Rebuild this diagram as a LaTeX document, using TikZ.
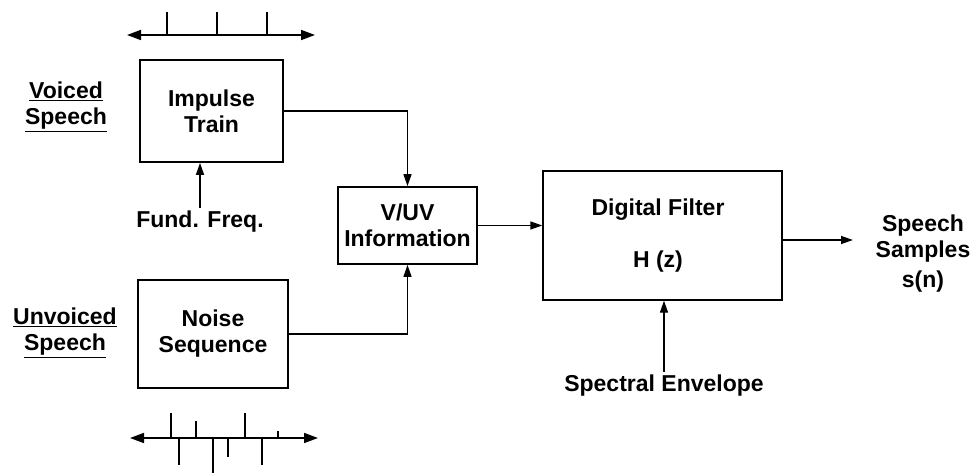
\documentclass[tikz,border=0pt]{standalone}
\usepackage{fontspec}
\setmainfont{Liberation Sans}
\usetikzlibrary{arrows.meta}
\begin{document}
\begin{tikzpicture}[x=1pt, y=-1pt,
    font=\fontsize{23}{26}\selectfont\bfseries,
    box/.style={rectangle, draw, line width=1.8pt, align=center, inner sep=0pt},
    arrow/.style={-{Triangle[length=12pt, width=8pt]}, line width=1.4pt},
    axis/.style={{Triangle[length=14pt, width=10pt]}-{Triangle[length=14pt, width=10pt]}, line width=1.6pt},
    tick/.style={line width=1.6pt}]
    \useasboundingbox (0,0) rectangle (975,473);

    % blocks
    \node[box, minimum width=143pt, minimum height=102pt] (impulse) at (211.5, 111) {Impulse\\Train};
    \node[box, minimum width=150pt, minimum height=108pt] (noise) at (213, 334) {Noise\\Sequence};
    \node[box, minimum width=139pt, minimum height=77pt] (vuv) at (407.5, 225.5) {V/UV\\Information};
    \node[box, minimum width=239pt, minimum height=129pt, line width=1.4pt] (filter) at (662.5, 235.5) {};
    \node (filtname) at (658, 210) {Digital Filter};
    \node (hz) at (658, 262) {H (z)};

    % labels
    \node[align=center] (voiced) at (66, 107) {\underline{Voiced}\\\underline{Speech}};
    \node[align=center] (unvoiced) at (65, 333) {\underline{Unvoiced}\\\underline{Speech}};
    \node (fund) at (200, 222) {Fund. Freq.};
    \node (spec) at (664, 386) {Spectral Envelope};
    \node[align=center] (samples) at (923, 254) {Speech\\Samples\\[4pt]s(n)};
    \coordinate (out) at (853, 240);

    % connectors
    \draw[arrow] (impulse.east) -| (vuv.north);
    \draw[arrow] (noise.east) -| (vuv.south);
    \draw[arrow] (fund.north) -- (fund.north |- impulse.south);
    \draw[arrow] (vuv.east) -- (vuv.east -| filter.west);
    \draw[arrow] (filter.east |- out) -- (out);
    \draw[arrow] (spec.north) -- (spec.north |- filter.south);

    % impulse train
    \coordinate (ta) at (127, 35);
    \coordinate (tb) at (315, 35);
    \draw[axis] (ta) -- (tb);
    \foreach \x in {167, 217, 267}
        \draw[tick] (\x, 35) -- (\x, 12);

    % noise sequence
    \coordinate (ba) at (130, 438);
    \coordinate (bb) at (318, 438);
    \draw[axis] (ba) -- (bb);
    \foreach \x/\y in {171/413, 179/465, 196/421, 213/473, 228/457, 245/413, 262/465, 278/431}
        \draw[tick] (\x, 438) -- (\x, \y);
\end{tikzpicture}
\end{document}
